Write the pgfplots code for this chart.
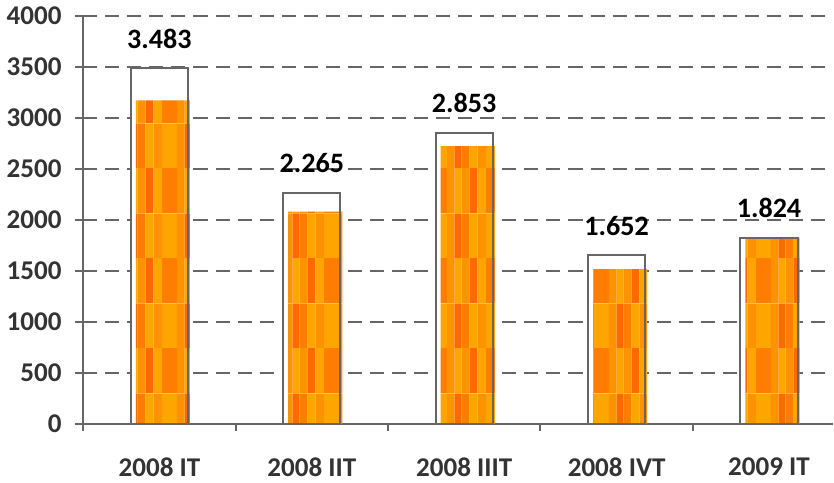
\documentclass[border=0pt]{standalone}
\usepackage{pgfplots}
\pgfplotsset{compat=1.18}
\usepackage{fontspec}
\setmainfont{Carlito}
\usetikzlibrary{patterns}

\definecolor{axgray}{HTML}{666666}
\definecolor{labgray}{HTML}{333333}
\definecolor{oA}{HTML}{FFA500}
\definecolor{oB}{HTML}{FF9200}
\definecolor{oC}{HTML}{FF7D00}
\definecolor{oD}{HTML}{FF6A00}

% one cell of the orange check: colour, x, width, y
\def\cell#1#2#3#4{\pgfsetfillcolor{#1}\pgfpathrectangle{\pgfpoint{#2pt}{#4pt}}{\pgfpoint{#3pt}{22.5pt}}\pgfusepath{fill}}
\pgfdeclarepatterninherentlycolored{orangecheck}
{\pgfpointorigin}{\pgfpoint{27pt}{45pt}}{\pgfpoint{27pt}{45pt}}
{
  \cell{oA}{0}{7.5}{22.5}\cell{oB}{7.5}{4}{22.5}\cell{oD}{11.5}{3.5}{22.5}
  \cell{oC}{15}{4}{22.5}\cell{oA}{19}{4}{22.5}\cell{oB}{23}{4}{22.5}
  \cell{oC}{0}{7.5}{0}\cell{oB}{7.5}{4}{0}\cell{oA}{11.5}{3.5}{0}
  \cell{oB}{15}{4}{0}\cell{oD}{19}{4}{0}\cell{oA}{23}{4}{0}
}

\begin{document}
\begin{tikzpicture}
\begin{axis}[
  scale only axis, width=373.9pt, height=203.5pt,
  xmin=-0.5, xmax=4.42, ymin=0, ymax=4000,
  axis x line*=bottom, axis y line*=left,
  axis line style={axgray, line width=1pt},
  xtick={0,1,2,3,4},
  xticklabels={2008 IT, 2008 IIT, 2008 IIIT, 2008 IVT, 2009 IT},
  minor xtick={-0.5,0.5,1.5,2.5,3.5},
  ytick={0,500,...,4000},
  /pgf/number format/assume math mode=true,
  /pgf/number format/set thousands separator={},
  tick align=center,
  major tick length=10.5pt, minor tick length=3.5pt,
  tick style={axgray, line width=1pt},
  major x tick style={draw=none},
  minor x tick style={yshift=-1.75pt},
  major y tick style={xshift=1.3pt},
  ymajorgrids,
  major grid style={axgray, line width=1pt, dash pattern=on 7pt off 4pt},
  ticklabel style={font=\fontsize{13.5}{16}\selectfont\bfseries, text=labgray},
  xticklabel style={yshift=-8pt},
  yticklabel style={xshift=-2pt},
  clip=false,
]
\addplot[ybar, bar width=28.5pt, bar shift=0pt, fill=white, draw=axgray, line width=1pt]
  coordinates {(0,3483) (1,2265) (2,2853) (3,1652) (4,1824)};
\addplot[ybar, bar width=27pt, bar shift=1.75pt, draw=none, pattern=orangecheck]
  coordinates {(0,3170) (1,2080) (2,2720) (3,1515) (4,1820)};
\addplot[ybar, bar width=28.5pt, bar shift=0pt, fill=none, draw=axgray, line width=1pt,
  point meta=explicit symbolic, nodes near coords,
  nodes near coords style={font=\fontsize{14}{16}\selectfont\bfseries, text=black, yshift=6pt}]
  coordinates {(0,3483)[3.483] (1,2265)[2.265] (2,2853)[2.853] (3,1652)[1.652] (4,1824)[1.824]};
\end{axis}
\end{tikzpicture}
\end{document}
